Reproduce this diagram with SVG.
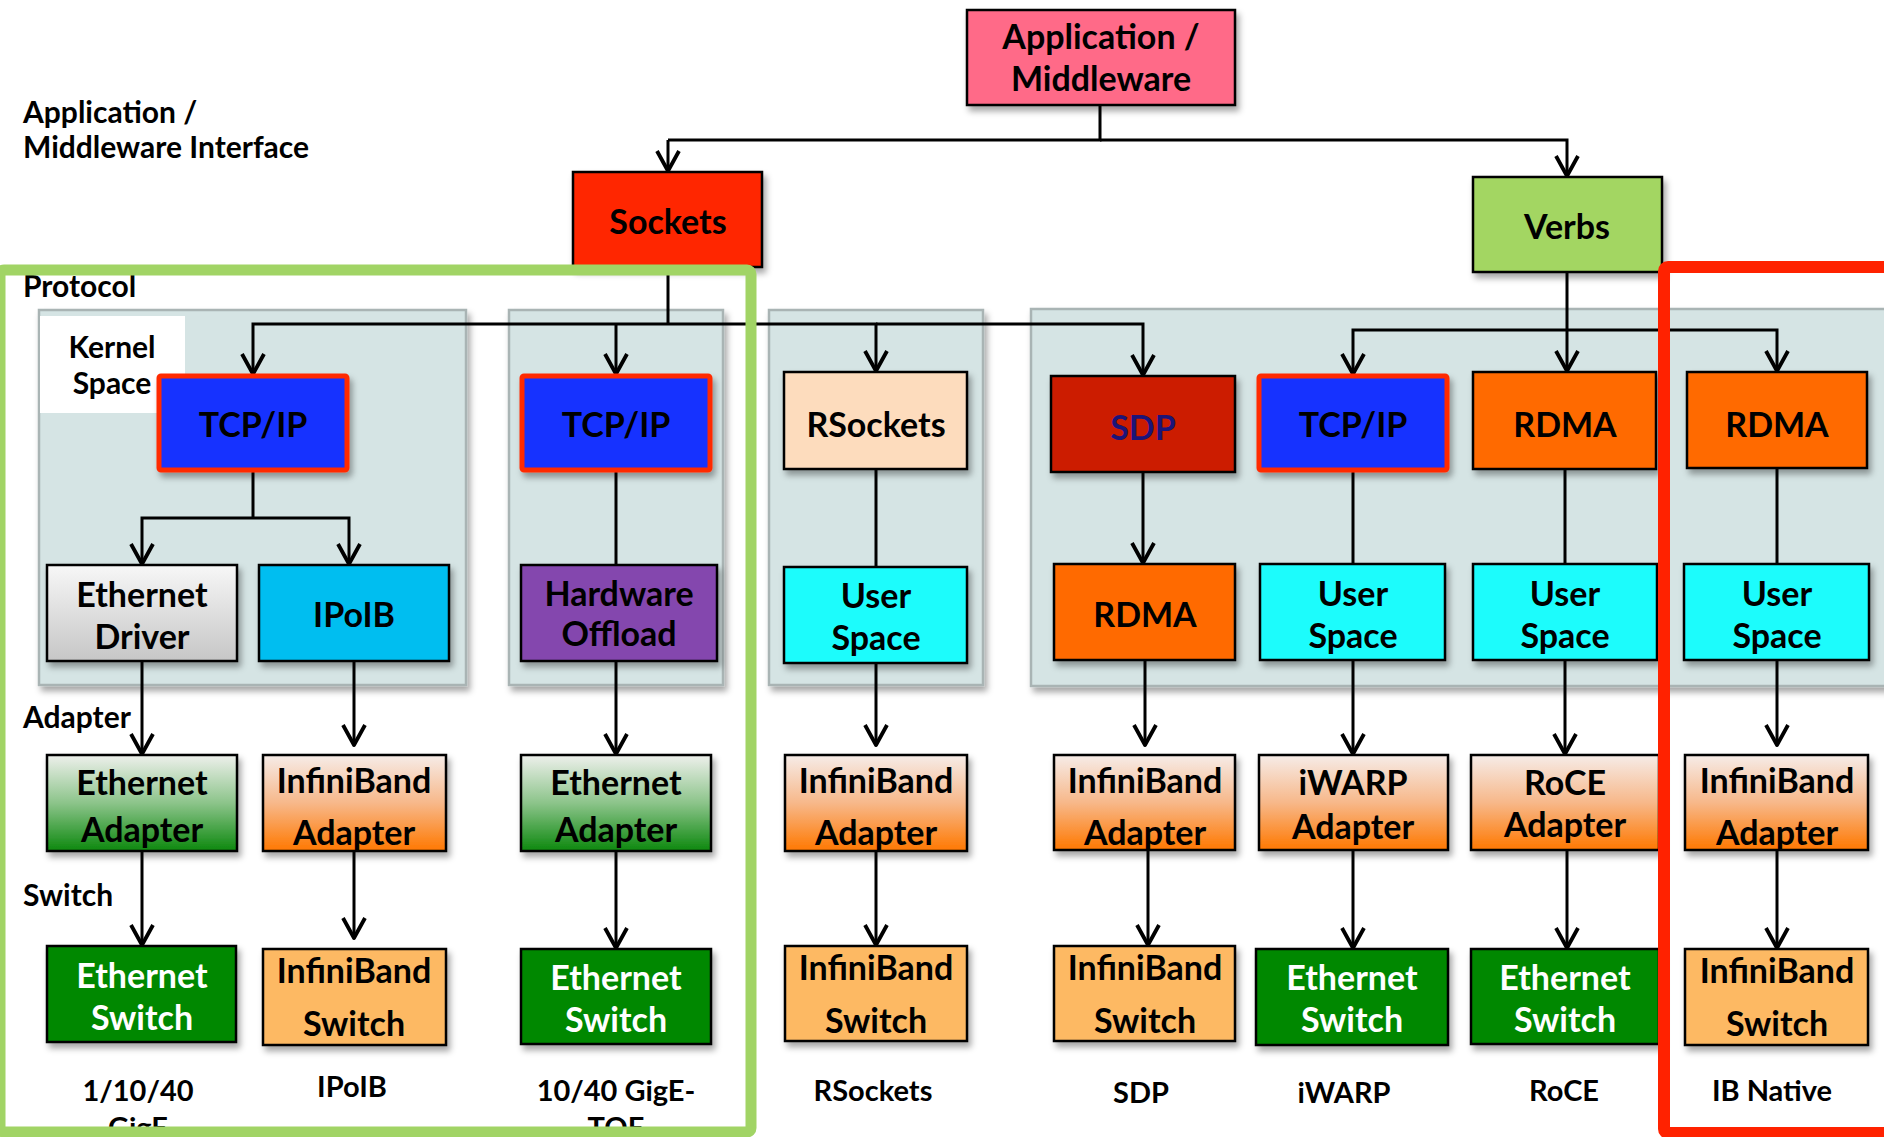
<svg xmlns="http://www.w3.org/2000/svg" width="1884" height="1137" viewBox="0 0 1884 1137">
  <defs>
    <style>
      text { font-family: Lato, "Open Sans", "Liberation Sans", sans-serif; font-weight: 700; fill: #000; }
      .t { font-size: 34px; text-anchor: middle; }
      .w { fill: #fff; }
      .side { font-size: 30px; text-anchor: start; }
      .foot { font-size: 29px; text-anchor: middle; }
      .ks { font-size: 30px; text-anchor: middle; }
      .box { stroke: #000; stroke-width: 2.5; filter: url(#sh); }
      .tcp { fill: #1432ff; stroke: #ff2a00; stroke-width: 5; filter: url(#sh); }
      .panel { fill: #d5e4e4; stroke: #a9b4b4; stroke-width: 2.5; filter: url(#sh); }
      .wire { fill: none; stroke: #000; stroke-width: 3; }
      .arr { marker-end: url(#ah); }
    </style>
    <filter id="sh" x="-10%" y="-10%" width="130%" height="140%">
      <feDropShadow dx="3" dy="5" stdDeviation="3" flood-color="#000" flood-opacity="0.35"/>
    </filter>
    <marker id="ah" viewBox="0 0 26 26" refX="23" refY="13" markerWidth="26" markerHeight="26" markerUnits="userSpaceOnUse" orient="auto">
      <path d="M3,2 L23,13 L3,24" fill="none" stroke="#000" stroke-width="3.8" stroke-linejoin="round"/>
    </marker>
    <linearGradient id="gDrv" x1="0" y1="0" x2="0" y2="1">
      <stop offset="0" stop-color="#f7f7f7"/>
      <stop offset="1" stop-color="#c6c6c6"/>
    </linearGradient>
    <linearGradient id="gEth" x1="0" y1="0" x2="0" y2="1">
      <stop offset="0" stop-color="#eef0ec"/>
      <stop offset="0.5" stop-color="#8cc48a"/>
      <stop offset="1" stop-color="#0c880e"/>
    </linearGradient>
    <linearGradient id="gIB" x1="0" y1="0" x2="0" y2="1">
      <stop offset="0" stop-color="#f6ece8"/>
      <stop offset="0.5" stop-color="#f7b88a"/>
      <stop offset="1" stop-color="#ff7800"/>
    </linearGradient>
  </defs>

  <rect width="1884" height="1137" fill="#fff"/>

  <!-- side labels -->
  <g id="layer-labels">
    <text class="side" x="23" y="123">Application /</text>
    <text class="side" x="23" y="158">Middleware Interface</text>
    <text class="side" x="23" y="297">Protocol</text>
    <text class="side" x="23" y="728">Adapter</text>
    <text class="side" x="23" y="906">Switch</text>
  </g>

  <!-- grouping panels -->
  <g id="panels">
    <rect class="panel" x="39" y="310" width="427" height="375"/>
    <rect class="panel" x="509" y="310" width="214" height="375"/>
    <rect class="panel" x="769" y="310" width="214" height="375"/>
    <rect class="panel" x="1031" y="309" width="870" height="377"/>
  </g>

  <g id="kernel-space">
    <rect x="40" y="316" width="145" height="97" fill="#fff"/>
    <text class="ks" x="112" y="358">Kernel</text>
    <text class="ks" x="112" y="394">Space</text>
  </g>

  <!-- connectors -->
  <g id="connectors">
    <path class="wire" d="M1100,105 V140 H668"/>
    <path class="wire arr" d="M668,140 V171"/>
    <path class="wire arr" d="M1100,140 H1567 V176"/>

    <path class="wire" d="M668,267 V324"/>
    <path class="wire arr" d="M668,324 H253 V374"/>
    <path class="wire arr" d="M616,324 V374"/>
    <path class="wire arr" d="M668,324 H876 V371"/>
    <path class="wire arr" d="M876,324 H1143 V375"/>

    <path class="wire" d="M1567,272 V330"/>
    <path class="wire arr" d="M1567,330 H1353 V374"/>
    <path class="wire arr" d="M1567,330 V371"/>
    <path class="wire arr" d="M1567,330 H1777 V371"/>

    <path class="wire" d="M253,472 V518"/>
    <path class="wire arr" d="M253,518 H142 V564"/>
    <path class="wire arr" d="M253,518 H349 V564"/>
    <path class="wire arr" d="M142,661 V754"/>
    <path class="wire arr" d="M142,851 V945"/>
    <path class="wire arr" d="M354,661 V745"/>
    <path class="wire arr" d="M354,851 V938"/>

    <path class="wire" d="M616,472 V565"/>
    <path class="wire arr" d="M616,661 V754"/>
    <path class="wire arr" d="M616,851 V948"/>

    <path class="wire" d="M876,469 V567"/>
    <path class="wire arr" d="M876,663 V745"/>
    <path class="wire arr" d="M876,851 V945"/>

    <path class="wire arr" d="M1143,472 V563"/>
    <path class="wire arr" d="M1145,660 V745"/>
    <path class="wire arr" d="M1148,850 V945"/>

    <path class="wire" d="M1353,472 V564"/>
    <path class="wire arr" d="M1353,660 V754"/>
    <path class="wire arr" d="M1353,850 V948"/>

    <path class="wire" d="M1565,469 V564"/>
    <path class="wire arr" d="M1565,660 V754"/>
    <path class="wire arr" d="M1567,850 V948"/>

    <path class="wire" d="M1777,468 V564"/>
    <path class="wire arr" d="M1777,660 V745"/>
    <path class="wire arr" d="M1777,850 V948"/>
  </g>

  <!-- top level -->
  <g id="app">
    <rect class="box" x="967" y="10" width="268" height="95" fill="#ff6b88"/>
    <text class="t" x="1101" y="49">Application /</text>
    <text class="t" x="1101" y="91">Middleware</text>
  </g>
  <g id="sockets">
    <rect class="box" x="573" y="172" width="189" height="95" fill="#ff2600"/>
    <text class="t" x="668" y="234">Sockets</text>
  </g>
  <g id="verbs">
    <rect class="box" x="1473" y="177" width="189" height="95" fill="#a3d662"/>
    <text class="t" x="1567" y="239">Verbs</text>
  </g>

  <!-- protocol row -->
  <g id="tcpip-1">
    <rect class="tcp" x="159" y="376" width="188" height="94" rx="2"/>
    <text class="t" x="253" y="437">TCP/IP</text>
  </g>
  <g id="tcpip-2">
    <rect class="tcp" x="522" y="376" width="188" height="94" rx="2"/>
    <text class="t" x="616" y="437">TCP/IP</text>
  </g>
  <g id="rsockets">
    <rect class="box" x="784" y="372" width="183" height="97" fill="#fddcbd"/>
    <text class="t" x="876" y="437">RSockets</text>
  </g>
  <g id="sdp">
    <rect class="box" x="1051" y="376" width="184" height="96" fill="#cc1e00"/>
    <text class="t" x="1143" y="440" style="fill:#1c1478">SDP</text>
  </g>
  <g id="tcpip-3">
    <rect class="tcp" x="1259" y="376" width="188" height="94" rx="2"/>
    <text class="t" x="1353" y="437">TCP/IP</text>
  </g>
  <g id="rdma-roce">
    <rect class="box" x="1473" y="372" width="183" height="97" fill="#ff6a00"/>
    <text class="t" x="1565" y="437">RDMA</text>
  </g>
  <g id="rdma-native">
    <rect class="box" x="1687" y="372" width="180" height="96" fill="#ff6a00"/>
    <text class="t" x="1777" y="437">RDMA</text>
  </g>

  <!-- second protocol row -->
  <g id="eth-driver">
    <rect class="box" x="47" y="565" width="190" height="96" fill="url(#gDrv)"/>
    <text class="t" x="142" y="607">Ethernet</text>
    <text class="t" x="142" y="649">Driver</text>
  </g>
  <g id="ipoib">
    <rect class="box" x="259" y="565" width="190" height="96" fill="#00bef0"/>
    <text class="t" x="354" y="627">IPoIB</text>
  </g>
  <g id="hw-offload">
    <rect class="box" x="521" y="565" width="196" height="96" fill="#8446ae"/>
    <text class="t" x="619" y="606">Hardware</text>
    <text class="t" x="619" y="646">Offload</text>
  </g>
  <g id="userspace-rsockets">
    <rect class="box" x="784" y="567" width="183" height="96" fill="#1efcfc"/>
    <text class="t" x="876" y="608">User</text>
    <text class="t" x="876" y="650">Space</text>
  </g>
  <g id="rdma-sdp">
    <rect class="box" x="1054" y="564" width="181" height="96" fill="#ff6a00"/>
    <text class="t" x="1145" y="627">RDMA</text>
  </g>
  <g id="userspace-iwarp">
    <rect class="box" x="1260" y="564" width="185" height="96" fill="#1efcfc"/>
    <text class="t" x="1353" y="606">User</text>
    <text class="t" x="1353" y="648">Space</text>
  </g>
  <g id="userspace-roce">
    <rect class="box" x="1473" y="564" width="184" height="96" fill="#1efcfc"/>
    <text class="t" x="1565" y="606">User</text>
    <text class="t" x="1565" y="648">Space</text>
  </g>
  <g id="userspace-native">
    <rect class="box" x="1684" y="564" width="185" height="96" fill="#1efcfc"/>
    <text class="t" x="1777" y="606">User</text>
    <text class="t" x="1777" y="648">Space</text>
  </g>

  <!-- adapter row -->
  <g id="eth-adapter-1">
    <rect class="box" x="47" y="755" width="190" height="96" fill="url(#gEth)"/>
    <text class="t" x="142" y="795">Ethernet</text>
    <text class="t" x="142" y="842">Adapter</text>
  </g>
  <g id="ib-adapter-ipoib">
    <rect class="box" x="263" y="755" width="183" height="96" fill="url(#gIB)"/>
    <text class="t" x="354" y="793">InfiniBand</text>
    <text class="t" x="354" y="845">Adapter</text>
  </g>
  <g id="eth-adapter-2">
    <rect class="box" x="521" y="755" width="190" height="96" fill="url(#gEth)"/>
    <text class="t" x="616" y="795">Ethernet</text>
    <text class="t" x="616" y="842">Adapter</text>
  </g>
  <g id="ib-adapter-rsockets">
    <rect class="box" x="785" y="755" width="182" height="96" fill="url(#gIB)"/>
    <text class="t" x="876" y="793">InfiniBand</text>
    <text class="t" x="876" y="845">Adapter</text>
  </g>
  <g id="ib-adapter-sdp">
    <rect class="box" x="1054" y="755" width="181" height="95" fill="url(#gIB)"/>
    <text class="t" x="1145" y="793">InfiniBand</text>
    <text class="t" x="1145" y="845">Adapter</text>
  </g>
  <g id="iwarp-adapter">
    <rect class="box" x="1259" y="755" width="189" height="95" fill="url(#gIB)"/>
    <text class="t" x="1353" y="795">iWARP</text>
    <text class="t" x="1353" y="839">Adapter</text>
  </g>
  <g id="roce-adapter">
    <rect class="box" x="1471" y="755" width="188" height="95" fill="url(#gIB)"/>
    <text class="t" x="1565" y="795">RoCE</text>
    <text class="t" x="1565" y="837">Adapter</text>
  </g>
  <g id="ib-adapter-native">
    <rect class="box" x="1685" y="755" width="183" height="95" fill="url(#gIB)"/>
    <text class="t" x="1777" y="793">InfiniBand</text>
    <text class="t" x="1777" y="845">Adapter</text>
  </g>

  <!-- switch row -->
  <g id="eth-switch-1">
    <rect class="box" x="47" y="946" width="189" height="96" fill="#008800"/>
    <text class="t w" x="142" y="988">Ethernet</text>
    <text class="t w" x="142" y="1030">Switch</text>
  </g>
  <g id="ib-switch-ipoib">
    <rect class="box" x="263" y="949" width="183" height="96" fill="#fdb964"/>
    <text class="t" x="354" y="983">InfiniBand</text>
    <text class="t" x="354" y="1036">Switch</text>
  </g>
  <g id="eth-switch-2">
    <rect class="box" x="521" y="949" width="190" height="95" fill="#008800"/>
    <text class="t w" x="616" y="990">Ethernet</text>
    <text class="t w" x="616" y="1032">Switch</text>
  </g>
  <g id="ib-switch-rsockets">
    <rect class="box" x="785" y="946" width="182" height="95" fill="#fdb964"/>
    <text class="t" x="876" y="980">InfiniBand</text>
    <text class="t" x="876" y="1033">Switch</text>
  </g>
  <g id="ib-switch-sdp">
    <rect class="box" x="1054" y="946" width="181" height="95" fill="#fdb964"/>
    <text class="t" x="1145" y="980">InfiniBand</text>
    <text class="t" x="1145" y="1033">Switch</text>
  </g>
  <g id="eth-switch-iwarp">
    <rect class="box" x="1256" y="949" width="192" height="96" fill="#008800"/>
    <text class="t w" x="1352" y="990">Ethernet</text>
    <text class="t w" x="1352" y="1032">Switch</text>
  </g>
  <g id="eth-switch-roce">
    <rect class="box" x="1471" y="949" width="188" height="95" fill="#008800"/>
    <text class="t w" x="1565" y="990">Ethernet</text>
    <text class="t w" x="1565" y="1032">Switch</text>
  </g>
  <g id="ib-switch-native">
    <rect class="box" x="1685" y="949" width="183" height="96" fill="#fdb964"/>
    <text class="t" x="1777" y="983">InfiniBand</text>
    <text class="t" x="1777" y="1036">Switch</text>
  </g>

  <!-- stack names -->
  <g id="stack-names">
    <text class="foot" x="138" y="1101">1/10/40</text>
    <text class="foot" x="138" y="1138">GigE</text>
    <text class="foot" x="352" y="1097">IPoIB</text>
    <text class="foot" x="616" y="1101">10/40 GigE-</text>
    <text class="foot" x="616" y="1138">TOE</text>
    <text class="foot" x="873" y="1101">RSockets</text>
    <text class="foot" x="1141" y="1103">SDP</text>
    <text class="foot" x="1344" y="1103">iWARP</text>
    <text class="foot" x="1564" y="1101">RoCE</text>
    <text class="foot" x="1772" y="1101">IB Native</text>
  </g>

  <!-- highlight frames -->
  <g id="highlights">
    <rect x="0" y="270" width="751" height="862" rx="4" fill="none" stroke="#a1d465" stroke-width="11"/>
    <rect x="1664" y="267" width="228" height="866" rx="4" fill="none" stroke="#ff2200" stroke-width="12"/>
  </g>
</svg>
